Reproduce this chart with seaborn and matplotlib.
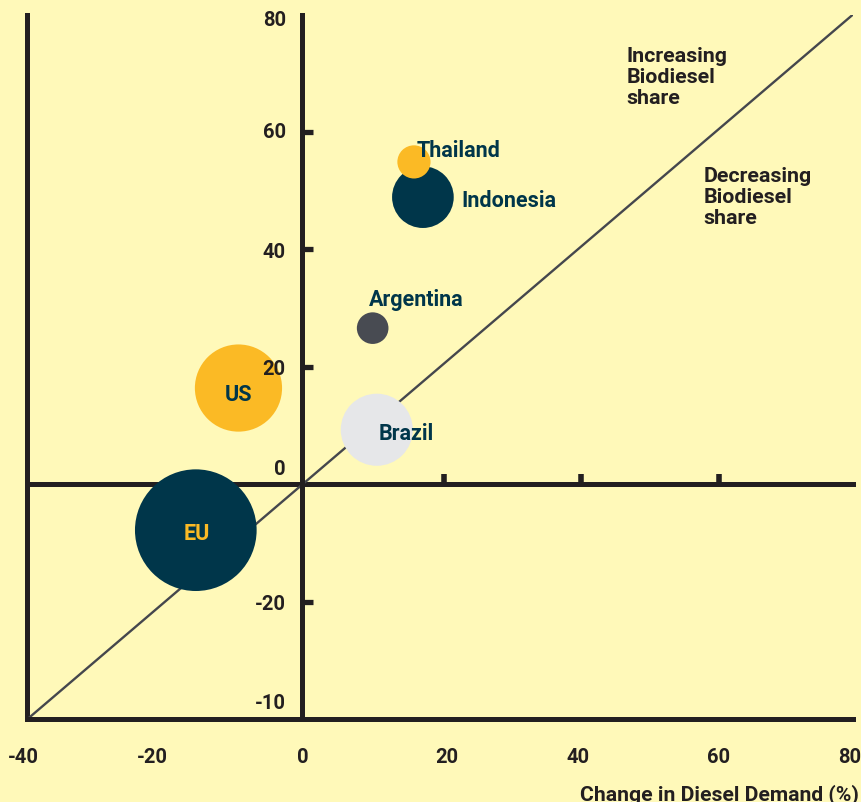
"""
生物柴油份额变化气泡图 - 柴油需求变化 vs 生物柴油需求变化
"""

import numpy as np
import pandas as pd
import matplotlib
matplotlib.use('Agg')
import matplotlib.pyplot as plt
import matplotlib.transforms as mtransforms
import seaborn as sns

# ==================== 数据 ====================
countries = ['EU', 'US', 'Brazil', 'Argentina', 'Indonesia', 'Thailand']
diesel_change = [-15.5, -9.3, 10.8, 10.2, 17.5, 16.2]      # x 轴: 柴油需求变化 (%)
biodiesel_change = [-7.8, 16.4, 9.3, 26.6, 48.9, 54.9]     # y 轴: 生物柴油需求变化 (%)
volume = [14.8, 7.6, 5.2, 1.0, 3.8, 1.1]                   # 气泡面积

x_ticks = [-40, -20, 0, 20, 40, 60, 80]
y_ticks = [-40, -20, 0, 20, 40, 60, 80]
y_tick_labels = ['-10', '-20', '0', '20', '40', '60', '80']
x_label = 'Change in Diesel Demand (%)'
note_up = 'Increasing\nBiodiesel\nshare'
note_down = 'Decreasing\nBiodiesel\nshare'

# ==================== 样式 ====================
BG = '#FFF9B9'
NAVY = '#00364A'
YELLOW = '#FBBA25'
DARK = '#231F20'
palette = {'EU': NAVY, 'US': YELLOW, 'Brazil': '#E6E7E9',
           'Argentina': '#484B52', 'Indonesia': NAVY, 'Thailand': YELLOW}
# 标签: (ha, dx, dy 单位 pt, 颜色)
label_style = {
    'EU': ('center', 0.9, -6.6, YELLOW),
    'US': ('center', 0.0, -8.5, NAVY),
    'Brazil': ('left', 1.2, -6.7, NAVY),
    'Argentina': ('left', -2.4, 16.3, NAVY),
    'Indonesia': ('left', 28.0, -6.5, NAVY),
    'Thailand': ('left', 2.0, 4.5, NAVY),
}
AREA_PER_UNIT = 518.5   # pt^2 / 单位体积
LW = 3.6

sns.set_style('white')
plt.rcParams['font.family'] = ['Roboto', 'DejaVu Sans']
plt.rcParams['font.weight'] = 'bold'
plt.rcParams['axes.unicode_minus'] = False

fig = plt.figure(figsize=(8.61, 8.03), dpi=100, facecolor=BG)
ax = fig.add_axes([27.2 / 861, (803 - 720.3) / 803,
                   (853 - 27.2) / 861, (720.3 - 15.5) / 803])
ax.set_facecolor(BG)

df = pd.DataFrame({'country': countries, 'x': diesel_change,
                   'y': biodiesel_change, 'volume': volume})

ax.axline((0, 0), slope=1, color='#45474D', linewidth=1.7, zorder=2)

sns.scatterplot(data=df, x='x', y='y', hue='country', palette=palette,
                size='volume', sizes=(0, AREA_PER_UNIT * max(volume)),
                size_norm=(0, max(volume)), legend=False, linewidth=0,
                alpha=1, zorder=3, ax=ax)

for c, xv, yv in zip(countries, diesel_change, biodiesel_change):
    ha, dx, dy, col = label_style[c]
    ax.annotate(c, (xv, yv), xytext=(dx, dy), textcoords='offset points',
                ha=ha, va='baseline', fontsize=15.5, fontweight='bold',
                color=col, zorder=4)

ax.set_xlim(-40, 80)
ax.set_ylim(-40, 80)

# 坐标轴线
for s in ['top', 'right']:
    ax.spines[s].set_visible(False)
ax.spines['left'].set_position(('data', 0))
for s in ['left', 'bottom']:
    ax.spines[s].set_linewidth(LW)
    ax.spines[s].set_color(DARK)

ax.set_xticks(x_ticks)
ax.set_yticks(y_ticks, y_tick_labels)
ax.tick_params(axis='y', left=True, direction='in', length=7.7, width=3.8,
               color=DARK, pad=12, labelsize=14.5, labelcolor=DARK)
ax.tick_params(axis='x', bottom=True, length=0, pad=20, labelsize=14.5,
               labelcolor=DARK)
ax.yaxis.set_zorder(3.5)

# 左侧框线 (x=-40)
frame_y = ax.secondary_yaxis('left')
frame_y.set_yticks([])
frame_y.tick_params(left=False, labelleft=False)
frame_y.spines['left'].set_linewidth(LW)
frame_y.spines['left'].set_color(DARK)

# y=0 横轴及刻度
y0 = (0 - y_ticks[0]) / (y_ticks[-1] - y_ticks[0])
zero_x = ax.secondary_xaxis(y0)
zero_x.set_xticks([20, 40, 60])
zero_x.tick_params(bottom=True, direction='in', length=7.2, width=4,
                   color=DARK, labelbottom=False)
zero_x.spines['bottom'].set_linewidth(LW)
zero_x.spines['bottom'].set_color(DARK)

ax.text(47.1, 74.6, note_up, ha='left', va='top', fontsize=15.4,
        fontweight='bold', color=DARK, linespacing=1.14)
ax.text(58.3, 54.2, note_down, ha='left', va='top', fontsize=15.4,
        fontweight='bold', color=DARK, linespacing=1.14)

ax.set_ylabel('')
ax.set_xlabel(x_label, fontsize=15.2, fontweight='bold', color=DARK)
ax.xaxis.set_label_coords(1.0073, -0.1131)
ax.xaxis.label.set_ha('right')
ax.xaxis.label.set_va('baseline')

# 个别刻度及标签位置微调 (像素)
y_shift = {-40: 19, 0: 17.5, 60: 2, 80: -3}
for tick, val in zip(ax.yaxis.get_major_ticks(), y_ticks):
    if val in (-40, 0, 80):
        tick.tick1line.set_visible(False)
    if val in y_shift:
        off = mtransforms.ScaledTranslation(0, y_shift[val] / 100, fig.dpi_scale_trans)
        tick.label1.set_transform(tick.label1.get_transform() + off)
x_shift = {-40: -4, -20: -12, 20: 7, 60: 3, 80: -3}
for tick, val in zip(ax.xaxis.get_major_ticks(), x_ticks):
    if val in x_shift:
        off = mtransforms.ScaledTranslation(x_shift[val] / 100, 0, fig.dpi_scale_trans)
        tick.label1.set_transform(tick.label1.get_transform() + off)
for tick in zero_x.xaxis.get_major_ticks():
    off = mtransforms.ScaledTranslation(3.5 / 100, 0, fig.dpi_scale_trans)
    tick.tick1line.set_transform(tick.tick1line.get_transform() + off)

fig.savefig('out.png', dpi=100, facecolor=BG)
